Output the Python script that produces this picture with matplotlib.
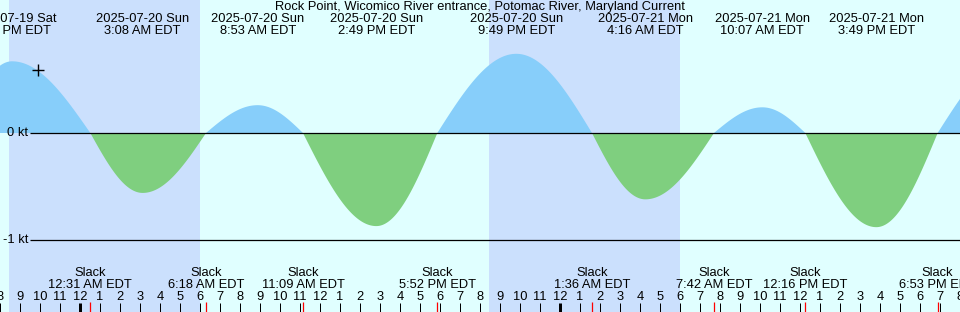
import numpy as np
import pandas as pd
import matplotlib
matplotlib.use('Agg')
import matplotlib.pyplot as plt
import matplotlib.transforms as mtransforms

plt.rcParams['font.family'] = ['Liberation Sans', 'DejaVu Sans']

# 数据：最大流速时刻 / 憩流时刻 (EDT)
title = 'Rock Point, Wicomico River entrance, Potomac River, Maryland Current'
max_times = ['2025-07-19 20:36', '2025-07-20 03:08', '2025-07-20 08:53', '2025-07-20 14:49',
             '2025-07-20 21:49', '2025-07-21 04:16', '2025-07-21 10:07', '2025-07-21 15:49']
max_speeds = [0.67, -0.56, 0.26, -0.87, 0.74, -0.62, 0.24, -0.88]
slack_times = ['2025-07-20 00:31', '2025-07-20 06:18', '2025-07-20 11:09', '2025-07-20 17:52',
               '2025-07-21 01:36', '2025-07-21 07:42', '2025-07-21 12:16', '2025-07-21 18:53']
# 图外的事件（曲线两端用）
edge_times = ['2025-07-19 17:55', '2025-07-21 22:50']
edge_speeds = [0.0, 0.74]
sunset = ['2025-07-19 20:27', '2025-07-20 20:27']
sunrise = ['2025-07-20 06:00', '2025-07-21 06:00']
now_time = '2025-07-19 21:54'
now_speed = 0.59
start = pd.Timestamp('2025-07-19 20:00')
end = pd.Timestamp('2025-07-21 20:00')

def hrs(t):
    return (pd.Timestamp(t) - start) / pd.Timedelta(hours=1)

def fmt_time(t):
    t = pd.Timestamp(t)
    return f"{t.hour % 12 or 12}:{t.minute:02d} {'AM' if t.hour < 12 else 'PM'} EDT"

# 合并事件，按时间排序
ev = sorted([(hrs(t), v) for t, v in zip(max_times, max_speeds)] +
            [(hrs(t), 0.0) for t in slack_times] +
            [(hrs(t), v) for t, v in zip(edge_times, edge_speeds)])

# 相邻事件之间用四分之一正弦连接（憩流 -> 最大 或 最大 -> 憩流）
xs, ys = [], []
for (t0, v0), (t1, v1) in zip(ev[:-1], ev[1:]):
    s = np.linspace(0, 1, 80)
    if v0 == 0:
        y = v1 * np.sin(np.pi / 2 * s)
    else:
        y = v0 * np.cos(np.pi / 2 * s)
    xs.append(t0 + (t1 - t0) * s)
    ys.append(y)
xs = np.concatenate(xs)
ys = np.concatenate(ys)

W, H = 960, 312
fig = plt.figure(figsize=(9.6, 3.12), dpi=100)
ax = fig.add_axes([0, 0, 1, 1])
ax.set_xlim(0, 48)
# 像素 -> 节: 0 kt 在 y=133, -1 kt 在 y=240
kpp = 1 / 107.0
ax.set_ylim((133 - H) * kpp, 133 * kpp)
ax.axis('off')
ax.add_patch(plt.Rectangle((0, 0), 1, 1, transform=ax.transAxes, color='#e0ffff', zorder=0))

for a, b in zip(sunset, sunrise):
    ax.axvspan(hrs(a), hrs(b), color='#cbe0fd', lw=0, zorder=1)

ax.fill_between(xs, ys, 0, where=ys >= 0, color='#87cefa', lw=0, interpolate=True, zorder=2)
ax.fill_between(xs, ys, 0, where=ys <= 0, color='#7fcf7f', lw=0, interpolate=True, zorder=2)

px = 48 / W  # 每像素小时
ax.hlines([0, -1], 30 * px, 48, color='black', lw=0.9, zorder=3)
fs = 9.3
ax.text(28 * px, 0, '0 kt', ha='right', va='center', fontsize=fs, zorder=4)
ax.text(28 * px, -1, '-1 kt', ha='right', va='center', fontsize=fs, zorder=4)

ax.plot([hrs(now_time)], [now_speed], marker='+', color='black', ms=9, mew=1, zorder=4)

trans = mtransforms.blended_transform_factory(ax.transData, ax.transAxes)
def yf(p):
    return 1 - p / H

ax.text(0.5, yf(7), title, transform=ax.transAxes, ha='center', va='center', fontsize=fs)
for t in max_times:
    ts = pd.Timestamp(t)
    ax.text(hrs(t), yf(19), ts.strftime('%Y-%m-%d %a'), transform=trans,
            ha='center', va='center', fontsize=fs)
    ax.text(hrs(t), yf(31), fmt_time(t), transform=trans, ha='center', va='center', fontsize=fs)

for t in slack_times:
    ax.text(hrs(t), yf(273), 'Slack', transform=trans, ha='center', va='center', fontsize=fs)
    ax.text(hrs(t), yf(285), fmt_time(t), transform=trans, ha='center', va='center', fontsize=fs)

# 小时刻度
for h in range(0, 49):
    hour = (20 + h) % 24
    lab = str(hour % 12 or 12)
    ax.text(h, yf(297), lab, transform=trans, ha='center', va='center', fontsize=fs)
    lw = 3 if hour == 0 else 1
    ax.vlines(h, yf(312), yf(303), transform=trans, color='black', lw=lw * 0.72, zorder=4)
for t in slack_times:
    ax.vlines(hrs(t), yf(312), yf(302), transform=trans, color='red', lw=0.9, zorder=4)

fig.savefig('out.png', dpi=100)
